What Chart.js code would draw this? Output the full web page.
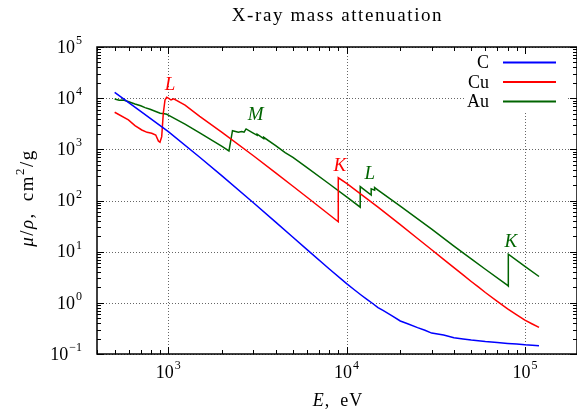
<!DOCTYPE html>
<html>
<head>
<meta charset="utf-8">
<script src="https://cdn.jsdelivr.net/npm/chart.js@4/dist/chart.umd.min.js"></script>
<style>
html,body{margin:0;padding:0;background:#fff;}
canvas{display:block;}
</style>
</head>
<body>
<canvas id="myChart" width="577" height="411"></canvas>
<script>
// energies in eV, mu/rho in cm^2/g
const cEnergy=[500,700,1000,1500,2000,3000,4000,5000,6000,8000,10000,11000,12000,13000,14000,15000,16000,18000,20000,22000,25000,27500,30000,35000,40000,45000,50000,60000,70000,80000,90000,100000,110000,120000];
const cMu=[13000,5500,2211,700,302.6,90.3,37.8,19.1,10.95,4.58,2.37,1.82,1.44,1.17,0.97,0.807,0.71,0.556,0.442,0.391,0.328,0.291,0.256,0.234,0.208,0.196,0.187,0.175,0.168,0.161,0.156,0.151,0.148,0.145];

const cuEnergy=[500,597,650,710,760,807,850,879,898,918,937,958,979,1000,1035,1072,1241,1500,2000,3000,4000,5000,6000,8000,8979,8979,10000,15000,20000,25000,30000,35000,40000,45000,50000,55000,60000,70000,80000,90000,100000,110000,120000];
const cuMu=[5300,3750,2900,2390,2150,2060,1900,1460,1377,1770,5070,9230,10400,10000,9200,9700,7300,4418,2154,749,347,190,115.6,52.6,38.3,278,216,74,33.8,18.1,10.9,7.08,4.86,3.51,2.61,2.02,1.59,1.07,0.763,0.583,0.458,0.386,0.331];

const auEnergy=[500,530,560,600,650,700,740,790,850,900,950,980,1000,1240,1500,2000,2188,2290,2471,2580,2660,2730,2960,3148,3148,3425,3425,4000,4520,5000,6000,8000,10000,11919,11919,13734,13734,14353,14353,15000,20000,30000,40000,50000,60000,80000,80725,80725,100000,120000];
const auMu=[9640,9100,9200,8500,7710,7100,6540,6070,5500,5070,4950,4850,4652,3100,2089,1137,931,2317,2160,2220,2160,2500,2120,1880,1980,1620,1720,1180,863,695,440,210,118,74,187,128,169,159,179,160,78,27.5,12.8,7.26,4.53,2.19,2.13,8.9,5.16,3.27];

const seriesNames=['C','Cu','Au'];
const seriesColors=['#0000ff','#ff0000','#006400'];

const xTickValues=[1000,10000,100000];
const xTickExp=['3','4','5'];
const yTickValues=[0.1,1,10,100,1000,10000,100000];
const yTickExp=['\u22121','0','1','2','3','4','5'];

// absorption edge labels
const edgeText=['L','M','K','L','K'];
const edgeEnergy=[1022,3090,9170,13500,83400];
const edgeMu=[18100,4700,481,327,15.7];
const edgeSeries=[1,2,1,2,2];

const serif='"Liberation Serif","DejaVu Serif",serif';

function toPoints(xs,ys){
  return xs.map((x,i)=>({x:x,y:ys[i]}));
}

function drawPow(ctx,x,y,exp,align){
  ctx.font='18px '+serif;
  const wb=ctx.measureText('10').width;
  ctx.font='12px '+serif;
  const we=ctx.measureText(exp).width;
  const w=wb+we+1;
  let start=align==='center'?x-w/2:x-w;
  ctx.textAlign='left';
  ctx.textBaseline='middle';
  ctx.font='18px '+serif;
  ctx.fillText('10',start,y);
  ctx.font='12px '+serif;
  ctx.fillText(exp,start+wb+1,y-7);
}

function drawParts(ctx,parts,cx,cy,spacing){
  // parts: [text, style, size, raise]
  ctx.letterSpacing=spacing+'px';
  let w=0;
  parts.forEach(p=>{ctx.font=p[1]+' '+p[2]+'px '+serif;w+=ctx.measureText(p[0]).width;});
  let x=cx-w/2;
  ctx.textAlign='left';
  ctx.textBaseline='middle';
  parts.forEach(p=>{
    ctx.font=p[1]+' '+p[2]+'px '+serif;
    ctx.fillText(p[0],x,cy-p[3]);
    x+=ctx.measureText(p[0]).width;
  });
  ctx.letterSpacing='0px';
}

function minorValues(min,max){
  const out=[];
  for(let n=-2;n<=6;n++){
    for(let m=1;m<=9;m++){
      const v=m*Math.pow(10,n);
      if(v>=min&&v<=max) out.push({v:v,major:m===1});
    }
  }
  return out;
}

const framePlugin={
  id:'frame',
  beforeDatasetsDraw(chart){
    const ctx=chart.ctx, a=chart.chartArea, xs=chart.scales.x, ys=chart.scales.y;
    ctx.save();
    ctx.strokeStyle='#666';
    ctx.lineWidth=1;
    ctx.setLineDash([1,2]);
    xTickValues.forEach(v=>{
      const px=Math.round(xs.getPixelForValue(v))+0.5;
      ctx.beginPath();ctx.moveTo(px,a.top);ctx.lineTo(px,a.bottom);ctx.stroke();
    });
    yTickValues.forEach(v=>{
      const py=Math.round(ys.getPixelForValue(v))+0.5;
      ctx.beginPath();ctx.moveTo(a.left,py);ctx.lineTo(a.right,py);ctx.stroke();
    });
    ctx.restore();
  },
  afterDatasetsDraw(chart){
    const ctx=chart.ctx, a=chart.chartArea, xs=chart.scales.x, ys=chart.scales.y;
    ctx.save();

    // legend
    const lx=465, ly=54;
    ctx.fillStyle='#fff';
    ctx.fillRect(lx,ly,102,58);
    chart.data.datasets.forEach((ds,i)=>{
      const yy=62.5+i*19.5;
      ctx.fillStyle='#000';
      ctx.font='18px '+serif;
      ctx.textAlign='right';
      ctx.textBaseline='middle';
      ctx.fillText(ds.label,489,yy+1);
      ctx.strokeStyle=ds.borderColor;
      ctx.lineWidth=2;
      ctx.beginPath();ctx.moveTo(503,yy);ctx.lineTo(556,yy);ctx.stroke();
    });

    // frame
    ctx.strokeStyle='#000';
    ctx.lineWidth=1.5;
    ctx.strokeRect(a.left,a.top,a.right-a.left,a.bottom-a.top);

    // ticks on all four sides
    ctx.lineWidth=1;
    minorValues(xs.min,xs.max).forEach(t=>{
      const px=Math.round(xs.getPixelForValue(t.v))+0.5;
      const len=t.major?7:4;
      ctx.beginPath();
      ctx.moveTo(px,a.bottom);ctx.lineTo(px,a.bottom-len);
      ctx.moveTo(px,a.top);ctx.lineTo(px,a.top+len);
      ctx.stroke();
    });
    minorValues(ys.min,ys.max).forEach(t=>{
      const py=Math.round(ys.getPixelForValue(t.v))+0.5;
      const len=t.major?7:4;
      ctx.beginPath();
      ctx.moveTo(a.left,py);ctx.lineTo(a.left+len,py);
      ctx.moveTo(a.right,py);ctx.lineTo(a.right-len,py);
      ctx.stroke();
    });

    // tick labels
    ctx.fillStyle='#000';
    xTickValues.forEach((v,i)=>{
      drawPow(ctx,xs.getPixelForValue(v),373,xTickExp[i],'center');
    });
    yTickValues.forEach((v,i)=>{
      drawPow(ctx,82,ys.getPixelForValue(v)+1,yTickExp[i],'right');
    });

    // axis titles
    drawParts(ctx,[['E','italic',18,0],[',\u2002eV','',18,0]],338,401,1);
    ctx.save();
    ctx.translate(28,198);
    ctx.rotate(-Math.PI/2);
    drawParts(ctx,[['\u03bc','italic',19,0],['/','',19,0],['\u03c1','italic',19,0],[',\u2002cm','',19,0],['2','',13,7],['/g','',19,0]],0,0,1.5);
    ctx.restore();

    // title
    ctx.font='19px '+serif;
    ctx.letterSpacing='1.6px';
    ctx.textAlign='center';
    ctx.textBaseline='middle';
    ctx.fillText('X-ray mass attenuation',337.5,16);
    ctx.letterSpacing='0px';

    // edge labels
    ctx.font='italic 19px '+serif;
    edgeText.forEach((t,i)=>{
      ctx.fillStyle=seriesColors[edgeSeries[i]];
      ctx.fillText(t,xs.getPixelForValue(edgeEnergy[i]),ys.getPixelForValue(edgeMu[i]));
    });
    ctx.restore();
  }
};

const datasets=[
  {label:seriesNames[0],data:toPoints(cEnergy,cMu),borderColor:seriesColors[0]},
  {label:seriesNames[1],data:toPoints(cuEnergy,cuMu),borderColor:seriesColors[1]},
  {label:seriesNames[2],data:toPoints(auEnergy,auMu),borderColor:seriesColors[2]}
].map(d=>Object.assign(d,{borderWidth:1.5,pointRadius:0,tension:0,fill:false}));

const myChart=new Chart(document.getElementById('myChart'),{
  type:'line',
  data:{datasets:datasets},
  options:{
    responsive:false,
    animation:false,
    devicePixelRatio:1,
    layout:{padding:{left:97,top:47,right:0,bottom:57}},
    plugins:{legend:{display:false},tooltip:{enabled:false},title:{display:false}},
    scales:{
      x:{type:'logarithmic',min:398,max:196000,display:false},
      y:{type:'logarithmic',min:0.1,max:100000,display:false}
    }
  },
  plugins:[framePlugin]
});
</script>
</body>
</html>
